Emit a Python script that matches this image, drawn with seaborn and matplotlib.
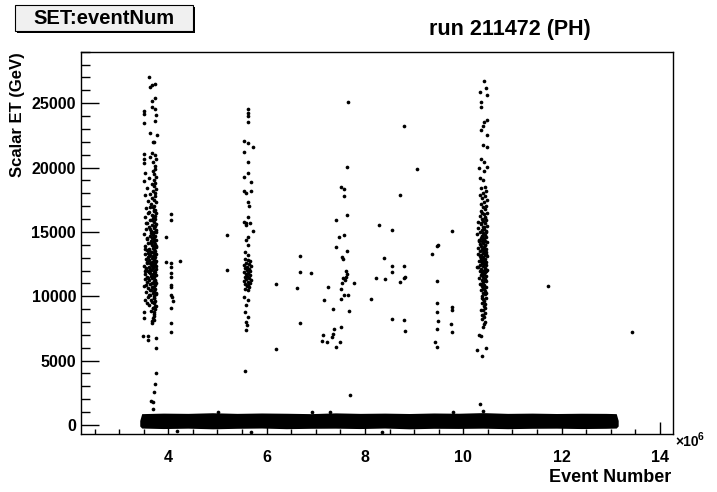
import numpy as np
import pandas as pd
import matplotlib
matplotlib.use("Agg")
import matplotlib.pyplot as plt
import matplotlib.patches as mpatches
from matplotlib.ticker import MultipleLocator
import seaborn as sns

# event number in units of 1e6, scalar ET in GeV

# first burst around 3.6e6
cluster_a = [
    (3.61, 27050), (3.67, 26450), (3.74, 26480), (3.63, 26290), (3.74, 25390), (3.66, 25180),
    (3.67, 24740), (3.73, 24560), (3.51, 24430), (3.51, 24170), (3.75, 24090), (3.73, 23650),
    (3.51, 23490), (3.63, 22720), (3.78, 22520), (3.69, 21970), (3.72, 21990), (3.67, 21100),
    (3.51, 21050), (3.73, 20980), (3.62, 20800), (3.51, 20700), (3.75, 20680), (3.51, 20350),
    (3.68, 20420), (3.73, 20150),
    (3.74, 19850), (3.68, 19700), (3.53, 19550), (3.72, 19480), (3.75, 19300), (3.60, 19180),
    (3.70, 19050), (3.51, 18950), (3.74, 18820), (3.66, 18700), (3.72, 18560), (3.56, 18420),
    (3.75, 18300), (3.69, 18180), (3.73, 18050), (3.62, 17950), (3.52, 17850), (3.74, 17760),
    (3.67, 17620), (3.71, 17500), (3.58, 17380), (3.75, 17300), (3.64, 17180), (3.72, 17050),
    (3.68, 16960), (3.55, 16850), (3.74, 16740), (3.70, 16620), (3.61, 16540), (3.76, 16450),
    (3.66, 16330), (3.72, 16240), (3.52, 16150), (3.69, 16060), (3.74, 15980), (3.63, 15890),
    (3.71, 15800), (3.57, 15710), (3.75, 15620), (3.67, 15540), (3.73, 15450), (3.60, 15360),
    (3.70, 15270), (3.54, 15200), (3.76, 15120), (3.65, 15040), (3.72, 14960), (3.69, 14880),
    (3.51, 14800), (3.74, 14720), (3.62, 14650), (3.71, 14570), (3.67, 14490), (3.56, 14420),
    (3.75, 14350), (3.64, 14280), (3.70, 14200), (3.59, 14130), (3.73, 14060), (3.66, 13990),
    (3.53, 13920), (3.76, 13850), (3.68, 13780), (3.61, 13710), (3.72, 13650), (3.57, 13580),
    (3.74, 13520), (3.65, 13450), (3.70, 13390), (3.52, 13320), (3.75, 13260), (3.63, 13200),
    (3.69, 13140), (3.58, 13080), (3.73, 13020), (3.66, 12960), (3.54, 12900), (3.71, 12840),
    (3.61, 12780), (3.76, 12720), (3.67, 12670), (3.56, 12610), (3.74, 12550), (3.64, 12490),
    (3.70, 12440), (3.51, 12380), (3.72, 12320), (3.60, 12270), (3.68, 12210), (3.55, 12160),
    (3.75, 12100), (3.65, 12040), (3.71, 11990), (3.58, 11930), (3.73, 11870), (3.62, 11820),
    (3.52, 11760), (3.69, 11700), (3.76, 11650), (3.64, 11590), (3.57, 11530), (3.72, 11480),
    (3.66, 11420), (3.53, 11360), (3.74, 11300), (3.61, 11240), (3.70, 11180), (3.56, 11120),
    (3.75, 11060), (3.67, 11000), (3.63, 10930), (3.73, 10860), (3.51, 10790), (3.69, 10720),
    (3.59, 10650), (3.74, 10580), (3.65, 10500), (3.71, 10420), (3.55, 10340), (3.68, 10260),
    (3.76, 10180), (3.62, 10100), (3.72, 10010), (3.58, 9920), (3.70, 9830), (3.53, 9740),
    (3.74, 9640), (3.66, 9540), (3.71, 9440), (3.61, 9340), (3.75, 9230), (3.68, 9120),
    (3.73, 9000), (3.64, 8890), (3.71, 8760), (3.70, 8620), (3.72, 8480), (3.68, 8330),
    (3.71, 8180), (3.66, 8040), (3.50, 8800), (3.50, 8300), (3.66, 7900),
    (3.49, 6920), (3.58, 6920), (3.58, 6600), (3.75, 6740), (3.75, 6010), (3.76, 4070),
    (3.73, 3160), (3.71, 2540), (3.64, 1890), (3.69, 1800), (3.68, 1240),
    (3.63, 16900), (3.70, 16700), (3.58, 16450), (3.73, 16200), (3.66, 15950), (3.54, 15700),
    (3.71, 15480), (3.62, 15250), (3.75, 15000), (3.68, 14780), (3.57, 14560), (3.72, 14340),
    (3.64, 14110), (3.70, 13900), (3.53, 13680), (3.67, 13470), (3.74, 13300), (3.60, 13090),
    (3.71, 12880), (3.56, 12700), (3.69, 12520), (3.75, 12340), (3.63, 12150), (3.52, 11960),
    (3.72, 11780), (3.66, 11600), (3.59, 11400), (3.74, 11220), (3.68, 11030), (3.55, 10850),
    (3.71, 10660), (3.63, 10460), (3.76, 10280), (3.60, 10080), (3.70, 9880), (3.65, 9680),
    (3.57, 9480), (3.73, 9280), (3.69, 9080), (3.62, 12600), (3.66, 12350), (3.60, 11850),
    (3.73, 12680), (3.58, 13380), (3.65, 14900), (3.54, 12080), (3.69, 11500), (3.61, 13560),
    (3.75, 13940), (3.67, 10750),
]

# small column just right of the first burst
cluster_b = [
    (4.05, 16400), (4.05, 15930), (3.95, 14640), (3.95, 12690), (4.05, 12590), (4.05, 12280),
    (4.23, 12750), (4.05, 11840), (4.05, 11500), (4.05, 10880), (4.05, 10750), (4.05, 10100),
    (4.07, 9920), (4.09, 9660), (4.05, 9070), (4.05, 7900), (4.05, 7250),
]

# second burst around 5.6e6
cluster_c = [
    (5.63, 24530), (5.63, 24220), (5.63, 24010), (5.63, 23520), (5.54, 22070), (5.63, 21940),
    (5.72, 21580), (5.54, 21240), (5.63, 20460), (5.54, 19300), (5.63, 19610), (5.68, 18910),
    (5.54, 18190), (5.58, 18010), (5.68, 18210), (5.63, 17360), (5.65, 17040), (5.63, 16140),
    (5.59, 15720), (5.66, 15680), (5.54, 15800), (5.59, 15540), (5.73, 15100), (5.63, 14640),
    (5.59, 14380), (5.63, 13990), (5.56, 13470), (5.63, 13210),
    (5.56, 12900), (5.62, 12800), (5.66, 12720), (5.59, 12610), (5.64, 12530), (5.55, 12440),
    (5.68, 12380), (5.61, 12290), (5.57, 12200), (5.65, 12120), (5.60, 12030), (5.67, 11950),
    (5.54, 11880), (5.63, 11800), (5.58, 11720), (5.66, 11650), (5.61, 11560), (5.56, 11480),
    (5.64, 11400), (5.59, 11320), (5.68, 11250), (5.55, 11170), (5.62, 11090), (5.66, 11010),
    (5.57, 10930), (5.63, 10850), (5.60, 10760), (5.65, 10680), (5.56, 10590), (5.62, 10500),
    (5.54, 9970), (5.63, 9720), (5.59, 9330), (5.56, 8800), (5.63, 8410), (5.58, 8030),
    (5.60, 7770), (5.59, 7380), (5.56, 4200), (5.19, 14770), (5.19, 12050),
]

# scattered events between 6e6 and 12e6
scattered = [
    (7.66, 25080), (8.80, 23260), (7.63, 20030), (9.06, 19920), (7.51, 18470), (7.58, 18370),
    (7.58, 17820), (8.71, 17880), (7.63, 16320), (7.42, 15930), (8.28, 15540), (8.56, 15130),
    (9.77, 15100), (7.48, 14640), (7.57, 14770), (7.41, 13860), (9.49, 13990), (9.47, 13910),
    (7.63, 13550), (9.36, 13290), (7.54, 13030), (7.55, 12880), (6.68, 13160), (8.39, 13000),
    (7.62, 11990), (7.63, 11730), (7.61, 11530), (6.67, 11920), (6.90, 11840), (8.56, 12360),
    (8.80, 12340), (8.56, 11920), (8.81, 11480), (8.79, 11400), (8.22, 11420), (8.41, 11350),
    (8.71, 11140), (7.55, 11420), (7.59, 11300), (7.53, 11060), (7.77, 11060), (6.19, 10960),
    (6.61, 10620), (7.24, 10750), (7.51, 10550), (9.47, 11220), (11.72, 10830), (7.57, 10100),
    (7.65, 10080), (7.51, 9770), (7.17, 9720), (8.12, 9790), (7.36, 9040), (7.68, 8880),
    (8.56, 8260), (8.80, 8160), (6.67, 7950), (8.81, 7330), (7.52, 7590), (7.38, 7440),
    (7.36, 7070), (7.15, 6970), (7.32, 6820), (7.12, 6550), (7.22, 6430), (7.49, 6470),
    (7.42, 6040), (6.19, 5880), (9.47, 9460), (9.47, 8800), (9.49, 8080), (9.47, 7440),
    (9.43, 6470), (9.47, 6090), (9.77, 9200), (9.77, 8940), (9.76, 7850), (9.77, 7250),
    (7.69, 2330), (13.43, 7250), (5.02, 1030), (6.92, 990), (7.28, 990), (9.80, 990),
    (4.18, -470), (5.69, -570), (8.35, -520),
]

# third burst around 10.4e6
cluster_d = [
    (10.42, 26760), (10.46, 26190), (10.34, 25860), (10.48, 25670), (10.35, 25080), (10.37, 24740),
    (10.48, 23700), (10.42, 23550), (10.41, 23200), (10.35, 22900), (10.48, 22530), (10.41, 21760),
    (10.48, 21630), (10.37, 20670), (10.42, 20400), (10.48, 20050), (10.32, 19980), (10.42, 19700),
    (10.34, 19150), (10.40, 19040),
    (10.44, 18500), (10.36, 18380), (10.47, 18200), (10.41, 18050), (10.33, 17900), (10.45, 17760),
    (10.39, 17620), (10.48, 17450), (10.42, 17300), (10.35, 17180), (10.46, 17020), (10.40, 16900),
    (10.44, 16760), (10.37, 16630), (10.48, 16500), (10.42, 16380), (10.33, 16260), (10.45, 16150),
    (10.39, 16030), (10.47, 15930), (10.41, 15840), (10.30, 15750), (10.44, 15660), (10.36, 15580),
    (10.48, 15490), (10.40, 15410), (10.29, 15320), (10.43, 15240), (10.38, 15160), (10.46, 15080),
    (10.34, 15000), (10.41, 14920), (10.28, 14850), (10.45, 14770), (10.39, 14700), (10.47, 14620),
    (10.36, 14550), (10.42, 14470), (10.31, 14400), (10.44, 14330), (10.38, 14260), (10.48, 14190),
    (10.40, 14120), (10.33, 14050), (10.45, 13980), (10.37, 13910), (10.43, 13840), (10.29, 13770),
    (10.46, 13700), (10.39, 13640), (10.42, 13570), (10.34, 13500), (10.47, 13440), (10.40, 13370),
    (10.30, 13300), (10.44, 13240), (10.37, 13170), (10.48, 13110), (10.41, 13040), (10.35, 12980),
    (10.45, 12910), (10.39, 12850), (10.43, 12780), (10.31, 12720), (10.47, 12650), (10.38, 12590),
    (10.42, 12520), (10.34, 12460), (10.46, 12390), (10.40, 12330), (10.28, 12260), (10.44, 12200),
    (10.37, 12130), (10.48, 12070), (10.41, 12000), (10.33, 11930), (10.45, 11860), (10.39, 11790),
    (10.43, 11720), (10.36, 11650), (10.47, 11570), (10.40, 11500), (10.32, 11420), (10.44, 11340),
    (10.38, 11260), (10.46, 11170), (10.41, 11080), (10.35, 10990), (10.43, 10900), (10.39, 10800),
    (10.47, 10700), (10.42, 10600), (10.37, 10490), (10.45, 10380), (10.40, 10260), (10.44, 10140),
    (10.38, 10020), (10.46, 9900), (10.41, 9770), (10.43, 9640), (10.39, 9500), (10.45, 9360),
    (10.42, 9210), (10.44, 9060), (10.40, 8900), (10.45, 8730), (10.41, 8560), (10.43, 8380),
    (10.39, 8200), (10.44, 8020), (10.42, 7830), (10.40, 7640),
    (10.32, 7000), (10.36, 6920), (10.28, 5830), (10.47, 6010), (10.38, 5390), (10.37, 8940),
    (10.39, 8550), (10.34, 1630), (10.41, 1110),
    (10.39, 16450), (10.45, 16050), (10.35, 15700), (10.43, 15350), (10.47, 14980), (10.38, 14650),
    (10.32, 14300), (10.44, 13980), (10.40, 13620), (10.46, 13280), (10.36, 12950), (10.42, 12620),
    (10.30, 12280), (10.47, 11950), (10.39, 11620), (10.44, 11280), (10.34, 10950), (10.41, 10620),
    (10.46, 10250), (10.38, 9880), (10.43, 13420), (10.37, 12730), (10.45, 12150), (10.41, 14560),
    (10.33, 13090),
]

# the dense low-ET band (thousands of events), given by its outer edges
band_x = [3.42, 3.46, 3.9, 4.4, 4.9, 5.4, 5.9, 6.4, 6.9, 7.4, 7.9, 8.4, 8.9, 9.4, 9.9,
          10.4, 10.9, 11.4, 11.9, 12.4, 12.9, 13.11, 13.15]
band_hi = [350, 880, 920, 900, 950, 900, 930, 910, 880, 940, 900, 920, 890, 930, 910,
           960, 900, 920, 890, 910, 900, 880, 350]
band_lo = [-80, -240, -280, -250, -300, -260, -240, -290, -260, -250, -280, -240, -300,
           -260, -270, -250, -290, -260, -250, -280, -260, -240, -80]

x_ticks = [4, 6, 8, 10, 12, 14]
y_ticks = [0, 5000, 10000, 15000, 20000, 25000]

points = cluster_a + cluster_b + cluster_c + scattered + cluster_d
df = pd.DataFrame(points, columns=["event", "et"])

sns.set_theme(style="ticks")
plt.rcParams["font.family"] = ["Liberation Sans", "DejaVu Sans"]
plt.rcParams["font.weight"] = "bold"
for key in ["text.color", "axes.labelcolor", "xtick.color", "ytick.color", "axes.edgecolor"]:
    plt.rcParams[key] = "black"

fig = plt.figure(figsize=(7.17, 4.92), dpi=100)
ax = fig.add_axes([0.1126, 0.1173, 0.8264, 0.7776])

ax.fill_between(band_x, band_lo, band_hi, color="black", linewidth=0)
sns.scatterplot(data=df, x="event", y="et", color="black", s=7, linewidth=0, ax=ax)

ax.set_xlim(2.22, 14.27)
ax.set_ylim(-725, 29000)
ax.set_xticks(x_ticks)
ax.set_yticks(y_ticks)
ax.set_xticklabels([str(v) for v in x_ticks], fontsize=11.5, fontweight="bold")
ax.set_yticklabels([str(v) for v in y_ticks], fontsize=11.5, fontweight="bold")
ax.xaxis.set_minor_locator(MultipleLocator(0.5))
ax.yaxis.set_minor_locator(MultipleLocator(1000))
ax.tick_params(axis="y", which="major", direction="in", length=12.7, width=1.0, pad=3.4,
               left=True, right=False, color="black")
ax.tick_params(axis="y", which="minor", direction="in", length=6.7, width=1.0,
               left=True, right=False, color="black")
ax.tick_params(axis="x", which="major", direction="in", length=8.4, width=1.0, pad=11,
               bottom=True, top=False, color="black")
ax.tick_params(axis="x", which="minor", direction="in", length=3.6, width=1.0,
               bottom=True, top=False, color="black")
ax.set_xlabel("")
ax.set_ylabel("")
for s in ax.spines.values():
    s.set_visible(True)
    s.set_color("black")
    s.set_linewidth(1.0)

fig.text(18 / 717, 1 - 52 / 492, "Scalar ET (GeV)", rotation=90, ha="center", va="top",
         fontsize=12, fontweight="bold")
fig.text(671.7 / 717, 1 - 477 / 492, "Event Number", ha="right", va="center",
         fontsize=13, fontweight="bold")
fig.text(675 / 717, 1 - 442 / 492, "\u00d710", ha="left", va="center", fontsize=10,
         fontweight="bold")
fig.text(698 / 717, 1 - 437 / 492, "6", ha="left", va="center", fontsize=7.5,
         fontweight="bold")
fig.text(510 / 717, 1 - 30 / 492, "run 211472 (PH)", ha="center", va="center",
         fontsize=15.5, fontweight="bold")

# stat-box style label at top left
W, H = 717.0, 492.0
shadow = mpatches.Rectangle((17 / W, 1 - 33 / H), 178 / W, 26 / H, transform=fig.transFigure,
                            facecolor="black", edgecolor="none")
box = mpatches.Rectangle((15 / W, 1 - 31 / H), 178 / W, 26 / H, transform=fig.transFigure,
                         facecolor="#f0f0f0", edgecolor="black", linewidth=0.8)
fig.patches.extend([shadow, box])
fig.text(104 / W, 1 - 18 / H, "SET:eventNum", ha="center", va="center", fontsize=14.5,
         fontweight="bold")

fig.savefig("out.png", dpi=100)
